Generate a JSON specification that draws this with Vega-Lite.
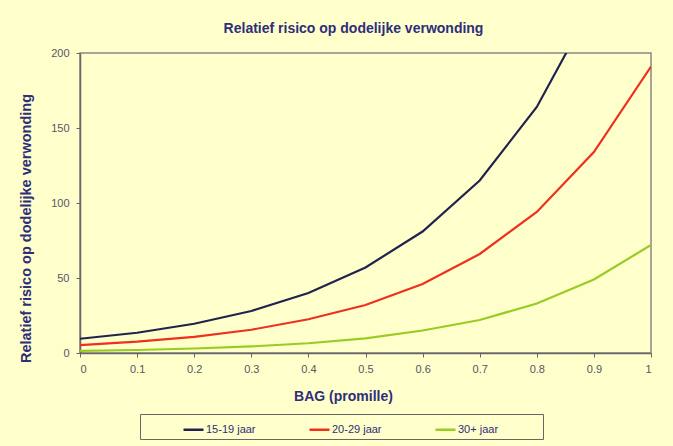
{
  "$schema": "https://vega.github.io/schema/vega-lite/v6.json",
  "width": 571,
  "height": 300,
  "autosize": {"type": "none"},
  "padding": {"left": 80, "top": 53, "right": 22, "bottom": 93},
  "background": "#FFFFCC",
  "title": {
    "text": "Relatief risico op dodelijke verwonding",
    "font": "Liberation Sans",
    "fontSize": 14,
    "fontWeight": "bold",
    "color": "#2E2E7A",
    "anchor": "middle",
    "dx": -12,
    "offset": 11
  },
  "data": {
    "values": [
      {"bag": 0, "groep": "15-19 jaar", "risico": 9.5},
      {"bag": 0.1, "groep": "15-19 jaar", "risico": 13.5},
      {"bag": 0.2, "groep": "15-19 jaar", "risico": 19.5},
      {"bag": 0.3, "groep": "15-19 jaar", "risico": 28},
      {"bag": 0.4, "groep": "15-19 jaar", "risico": 40},
      {"bag": 0.5, "groep": "15-19 jaar", "risico": 57},
      {"bag": 0.6, "groep": "15-19 jaar", "risico": 81},
      {"bag": 0.7, "groep": "15-19 jaar", "risico": 115},
      {"bag": 0.8, "groep": "15-19 jaar", "risico": 164},
      {"bag": 0.9, "groep": "15-19 jaar", "risico": 234},
      {"bag": 1, "groep": "15-19 jaar", "risico": 333},
      {"bag": 0, "groep": "20-29 jaar", "risico": 5.3},
      {"bag": 0.1, "groep": "20-29 jaar", "risico": 7.6},
      {"bag": 0.2, "groep": "20-29 jaar", "risico": 10.8},
      {"bag": 0.3, "groep": "20-29 jaar", "risico": 15.5},
      {"bag": 0.4, "groep": "20-29 jaar", "risico": 22.5},
      {"bag": 0.5, "groep": "20-29 jaar", "risico": 32},
      {"bag": 0.6, "groep": "20-29 jaar", "risico": 46},
      {"bag": 0.7, "groep": "20-29 jaar", "risico": 66},
      {"bag": 0.8, "groep": "20-29 jaar", "risico": 94},
      {"bag": 0.9, "groep": "20-29 jaar", "risico": 134},
      {"bag": 1, "groep": "20-29 jaar", "risico": 191},
      {"bag": 0, "groep": "30+ jaar", "risico": 1.4},
      {"bag": 0.1, "groep": "30+ jaar", "risico": 2},
      {"bag": 0.2, "groep": "30+ jaar", "risico": 3},
      {"bag": 0.3, "groep": "30+ jaar", "risico": 4.4},
      {"bag": 0.4, "groep": "30+ jaar", "risico": 6.5},
      {"bag": 0.5, "groep": "30+ jaar", "risico": 9.7},
      {"bag": 0.6, "groep": "30+ jaar", "risico": 15},
      {"bag": 0.7, "groep": "30+ jaar", "risico": 22},
      {"bag": 0.8, "groep": "30+ jaar", "risico": 33},
      {"bag": 0.9, "groep": "30+ jaar", "risico": 49},
      {"bag": 1, "groep": "30+ jaar", "risico": 72}
    ]
  },
  "mark": {"type": "line", "clip": true, "strokeWidth": 2.2},
  "encoding": {
    "x": {
      "field": "bag",
      "type": "quantitative",
      "scale": {"domain": [0, 1], "nice": false},
      "axis": {
        "title": "BAG (promille)",
        "values": [0, 0.1, 0.2, 0.3, 0.4, 0.5, 0.6, 0.7, 0.8, 0.9, 1],
        "format": "~g",
        "grid": false,
        "labelPadding": 6,
        "titlePadding": 15,
        "titleX": 263,
        "titleFontSize": 14
      }
    },
    "y": {
      "field": "risico",
      "type": "quantitative",
      "scale": {"domain": [0, 200], "nice": false},
      "axis": {
        "title": "Relatief risico op dodelijke verwonding",
        "values": [0, 50, 100, 150, 200],
        "grid": false,
        "labelPadding": 7,
        "titlePadding": 17,
        "titleY": 175,
        "titleFontSize": 14.5
      }
    },
    "color": {
      "field": "groep",
      "type": "nominal",
      "scale": {
        "domain": ["15-19 jaar", "20-29 jaar", "30+ jaar"],
        "range": ["#22224E", "#F0301E", "#99CC22"]
      },
      "legend": {
        "title": " ",
        "titleOrient": "left",
        "titlePadding": 38,
        "orient": "none",
        "direction": "horizontal",
        "legendX": 60,
        "legendY": 361,
        "symbolType": "stroke",
        "symbolSize": 400,
        "symbolStrokeWidth": 2.5,
        "columnPadding": 48,
        "labelFont": "Liberation Sans",
        "labelFontSize": 11,
        "labelColor": "#2E2E7A",
        "labelOffset": 1,
        "labelLimit": 400,
        "labelExpr": "datum.label == '30+ jaar' ? datum.label + '\u2800\u2800\u2800\u2800\u2800' : datum.label",
        "strokeColor": "#666666",
        "fillColor": "#FFFFCC",
        "padding": 4
      }
    }
  },
  "config": {
    "view": {"stroke": "#888888", "strokeWidth": 1.5},
    "axis": {
      "domainColor": "#666666",
      "domainWidth": 1.5,
      "tickColor": "#666666",
      "tickSize": 4,
      "labelFont": "Liberation Sans",
      "labelFontSize": 11,
      "labelColor": "#555566",
      "titleFont": "Liberation Sans",
      "titleFontSize": 12,
      "titleFontWeight": "bold",
      "titleColor": "#2E2E7A"
    }
  }
}
